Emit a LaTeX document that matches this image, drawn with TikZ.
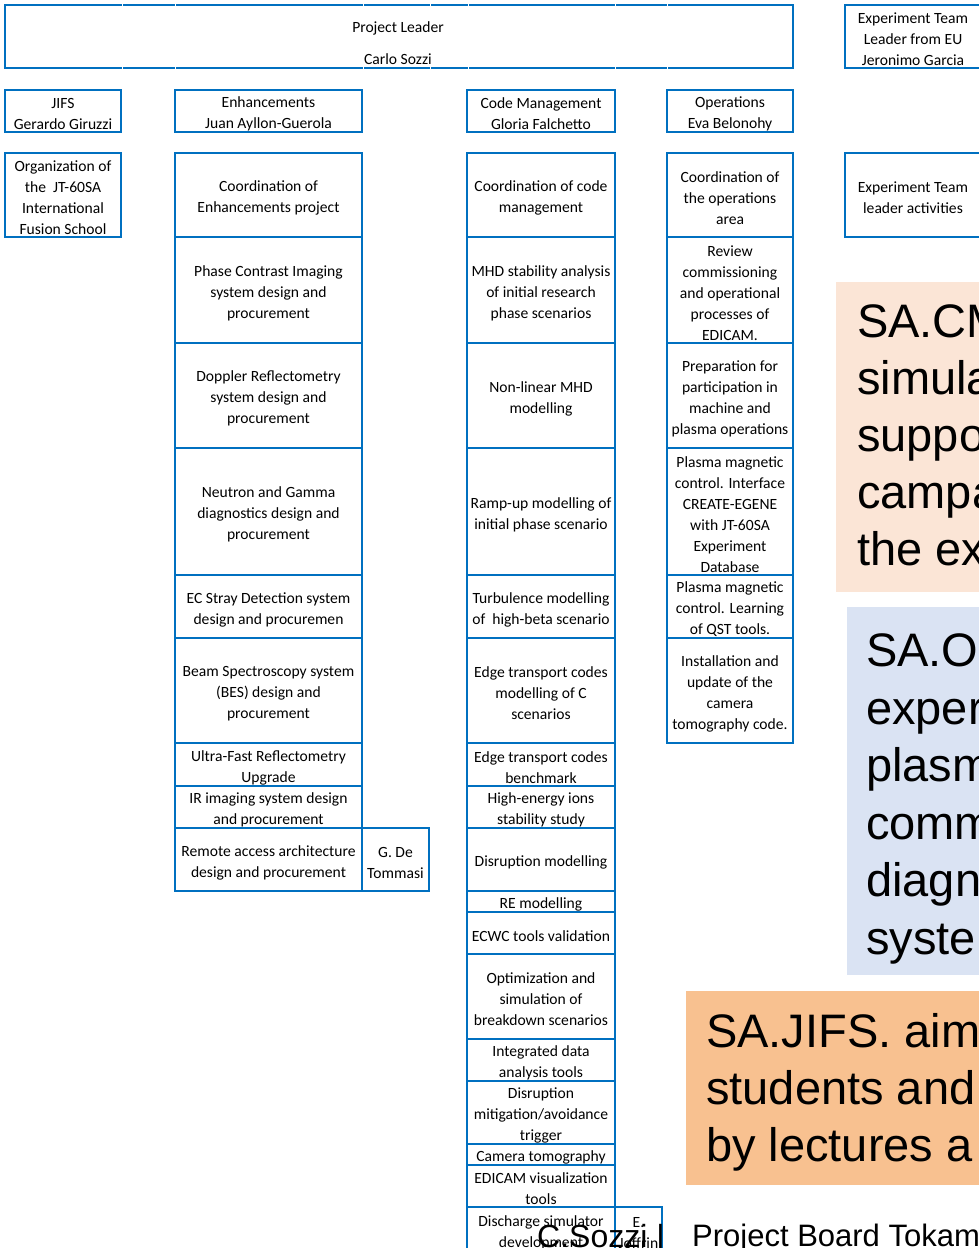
\documentclass[tikz,border=0pt]{standalone}
\usepackage{fontspec}
\setmainfont{Carlito}
\newfontfamily\arialf{Liberation Sans}
\definecolor{xlblue}{HTML}{0070C0}
\definecolor{peach}{HTML}{FBE5D6}
\definecolor{paleblue}{HTML}{DAE3F3}
\definecolor{orangefill}{HTML}{F8C190}
\newcommand\cellnode[6]{\node[cellbox, minimum width={#4pt-#2pt}, minimum height={#5pt-#3pt}] (#1) at ({(#2+#4)/2},{(#3+#5)/2}) {\rule{0pt}{17pt}#6};}
\begin{document}
\begin{tikzpicture}[x=1pt,y=-1pt,
  cellbox/.style={draw=xlblue, line width=1.2pt, inner sep=0pt, align=center, font=\fontsize{15.6}{21}\selectfont},
  celltext/.style={anchor=base, inner sep=0pt, font=\fontsize{15.6}{21}\selectfont},
  bandbox/.style={inner sep=0pt, draw=none, anchor=north west},
  bigtext/.style={anchor=base west, inner sep=0pt, font=\arialf\fontsize{47}{57}\selectfont},
  foottext/.style={anchor=base west, inner sep=0pt, font=\arialf},
  gapmark/.style={white, line width=1pt}]
\useasboundingbox[fill=white] (0,0) rectangle (978,1248);

% coloured summary panels
\node[bandbox, fill=peach, minimum width=150pt, minimum height=310pt] (cmpanel) at (836,282) {};
\node[bandbox, fill=paleblue, minimum width=140pt, minimum height=368pt] (opspanel) at (847,607) {};
\node[bandbox, fill=orangefill, minimum width=300pt, minimum height=194pt] (jifspanel) at (686,991) {};

\node[bigtext] (cm1) at (857,337) {SA.CM};
\node[bigtext] (cm2) at (857,394) {simula};
\node[bigtext] (cm3) at (857,451) {suppo};
\node[bigtext] (cm4) at (857,508) {campa};
\node[bigtext] (cm5) at (857,565) {the ex};

\node[bigtext] (op1) at (866,666) {SA.O};
\node[bigtext] (op2) at (866,724) {exper};
\node[bigtext] (op3) at (866,781) {plasm};
\node[bigtext] (op4) at (866,839) {comm};
\node[bigtext] (op5) at (866,896) {diagn};
\node[bigtext] (op6) at (866,954) {syste};

\node[bigtext] (js1) at (706,1047) {SA.JIFS. aim};
\node[bigtext] (js2) at (706,1104) {students and};
\node[bigtext] (js3) at (706,1161) {by lectures a};

% top row
\cellnode{lead}{5}{5}{793}{68}{}
\node[celltext] (leadt1) at (398,32) {Project Leader};
\node[celltext] (leadt2) at (398,64) {Carlo Sozzi};
\foreach \gx in {122,175,363,430,468,615,667}{
  \draw[gapmark] (\gx,3.5) -- (\gx,6.5);
  \draw[gapmark] (\gx,66.5) -- (\gx,69.5);
}
\cellnode{etl}{845}{5}{981}{68}{Experiment Team\\Leader from EU\\Jeronimo Garcia}

% heads
\cellnode{jifs}{5}{90}{121}{132}{JIFS\\Gerardo Giruzzi}
\cellnode{enh}{175}{90}{362}{132}{Enhancements\\Juan Ayllon-Guerola}
\cellnode{code}{467}{90}{615}{132}{Code Management\\Gloria Falchetto}
\cellnode{ops}{667}{90}{793}{132}{Operations\\Eva Belonohy}

% JIFS column
\cellnode{j1}{5}{153}{121}{237}{Organization of\\the~~JT-60SA\\International\\Fusion School}

% Enhancements column
\cellnode{e1}{175}{153}{362}{237}{Coordination of\\Enhancements project}
\cellnode{e2}{175}{237}{362}{343}{Phase Contrast Imaging\\system design and\\procurement}
\cellnode{e3}{175}{343}{362}{448}{Doppler Reflectometry\\system design and\\procurement}
\cellnode{e4}{175}{448}{362}{575}{Neutron and Gamma\\diagnostics design and\\procurement}
\cellnode{e5}{175}{575}{362}{638}{EC Stray Detection system\\design and procuremen}
\cellnode{e6}{175}{638}{362}{743}{Beam Spectroscopy system\\(BES) design and\\procurement}
\cellnode{e7}{175}{743}{362}{786}{Ultra-Fast Reflectometry\\Upgrade}
\cellnode{e8}{175}{786}{362}{828}{IR imaging system design\\and procurement}
\cellnode{e9}{175}{828}{362}{891}{Remote access architecture\\design and procurement}
\cellnode{e9b}{362}{828}{429}{891}{G. De\\Tommasi}

% Code management column
\cellnode{c1}{467}{153}{615}{237}{Coordination of code\\management}
\cellnode{c2}{467}{237}{615}{343}{MHD stability analysis\\of initial research\\phase scenarios}
\cellnode{c3}{467}{343}{615}{448}{Non-linear MHD\\modelling}
\cellnode{c4}{467}{448}{615}{575}{Ramp-up modelling of\\initial phase scenario}
\cellnode{c5}{467}{575}{615}{638}{Turbulence modelling\\of~~high-beta scenario}
\cellnode{c6}{467}{638}{615}{743}{Edge transport codes\\modelling of C\\scenarios}
\cellnode{c7}{467}{743}{615}{786}{Edge transport codes\\benchmark}
\cellnode{c8}{467}{786}{615}{828}{High-energy ions\\stability study}
\cellnode{c9}{467}{828}{615}{891}{Disruption modelling}
\cellnode{c10}{467}{891}{615}{912}{RE modelling}
\cellnode{c11}{467}{912}{615}{954}{ECWC tools validation}
\cellnode{c12}{467}{954}{615}{1039}{Optimization and\\simulation of\\breakdown scenarios}
\cellnode{c13}{467}{1039}{615}{1081}{Integrated data\\analysis tools}
\cellnode{c14}{467}{1081}{615}{1144}{Disruption\\mitigation/avoidance\\trigger}
\cellnode{c15}{467}{1144}{615}{1165}{Camera tomography}
\cellnode{c16}{467}{1165}{615}{1207}{EDICAM visualization\\tools}
\cellnode{c17}{467}{1207}{615}{1252}{Discharge simulator\\development}
\cellnode{c17b}{615}{1207}{662}{1252}{E.\\Joffrin}

% Operations column
\cellnode{o1}{667}{153}{793}{237}{Coordination of\\the operations\\area}
\cellnode{o2}{667}{237}{793}{343}{Review\\commissioning\\and operational\\processes of\\EDICAM.}
\cellnode{o3}{667}{343}{793}{448}{Preparation for\\participation in\\machine and\\plasma operations}
\cellnode{o4}{667}{448}{793}{575}{Plasma magnetic\\control. Interface\\CREATE-EGENE\\with JT-60SA\\Experiment\\Database}
\cellnode{o5}{667}{575}{793}{638}{Plasma magnetic\\control. Learning\\of QST tools.}
\cellnode{o6}{667}{638}{793}{743}{Installation and\\update of the\\camera\\tomography code.}

% Experiment team column
\cellnode{x1}{845}{153}{981}{237}{Experiment Team\\leader activities}

% footer
\node[foottext, font=\arialf\fontsize{32}{38}\selectfont] (foot1) at (537,1247) {C.Sozzi |};
\node[foottext, font=\arialf\fontsize{31}{36}\selectfont] (foot2) at (692,1246) {Project Board Tokam};
\end{tikzpicture}
\end{document}
